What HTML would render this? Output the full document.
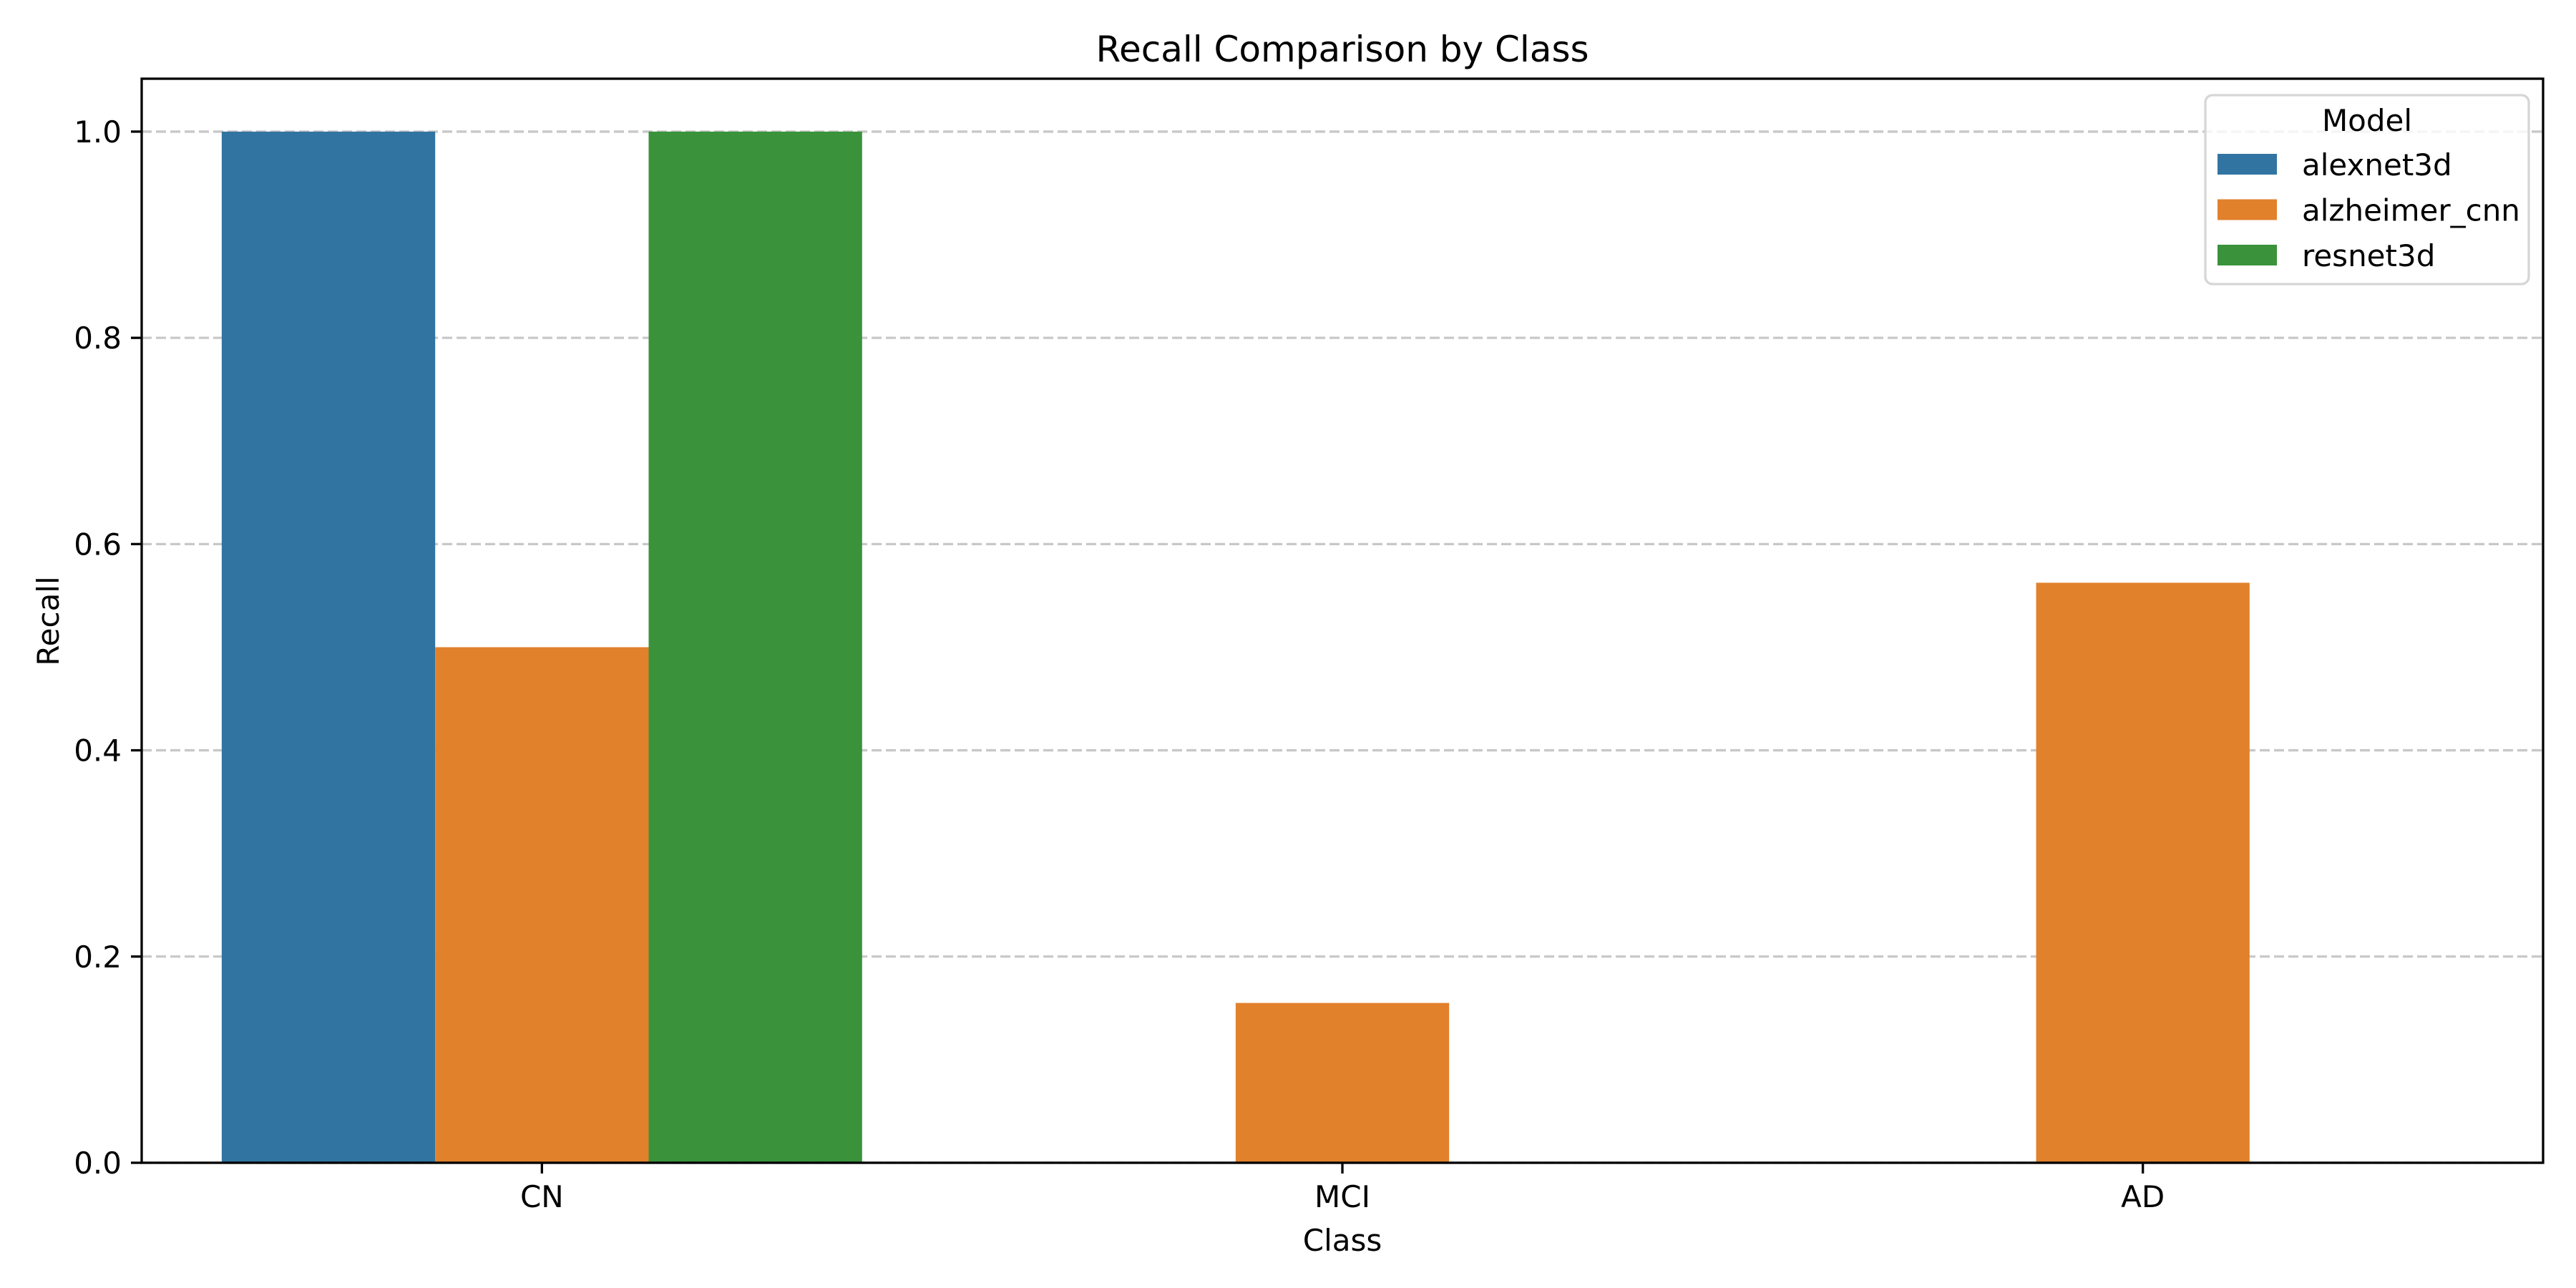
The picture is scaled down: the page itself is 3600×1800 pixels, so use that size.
<!DOCTYPE html>
<html><head><meta charset="utf-8"><style>
html,body{margin:0;padding:0;background:#fff;}
svg{display:block;font-family:"DejaVu Sans","Liberation Sans",sans-serif;}
</style></head><body>
<svg id="chart" width="3600" height="1800" viewBox="0 0 3600 1800" xmlns="http://www.w3.org/2000/svg">
<rect width="3600" height="1800" fill="#fff"/>
<g id="grid"></g>
<g id="bars"></g>
<g id="axes"></g>
<text x="1876" y="86" font-size="50" text-anchor="middle">Recall Comparison by Class</text>
<text x="1876" y="1748" font-size="42" text-anchor="middle">Class</text>
<text x="0" y="0" font-size="42" text-anchor="middle" transform="translate(82,868) rotate(-90)">Recall</text>
<g id="legend"></g>
</svg>
<script>
const categories = ["CN", "MCI", "AD"];
const models = ["alexnet3d", "alzheimer_cnn", "resnet3d"];
const alexnet3d = [1.0, 0.0, 0.0];
const alzheimerCnn = [0.5, 0.155, 0.5625];
const resnet3d = [1.0, 0.0, 0.0];
const yTicks = [0.0, 0.2, 0.4, 0.6, 0.8, 1.0];
const yTickLabels = ["0.0", "0.2", "0.4", "0.6", "0.8", "1.0"];

const series = [alexnet3d, alzheimerCnn, resnet3d];
const colors = ["#3274a1", "#e1812c", "#3a923a"];
const NS = "http://www.w3.org/2000/svg";
const L = 198, R = 3554, T = 110, B = 1625;
const yMax = 1.0513;
function xScale(v){ return L + (v + 0.5) / categories.length * (R - L); }
function yScale(v){ return B - v / yMax * (B - T); }
function mk(tag, attrs, parent){
  const e = document.createElementNS(NS, tag);
  for (const k in attrs) e.setAttribute(k, attrs[k]);
  parent.appendChild(e);
  return e;
}
const grid = document.getElementById('grid');
const bars = document.getElementById('bars');
const axes = document.getElementById('axes');
const legend = document.getElementById('legend');

yTicks.forEach((t, i) => {
  const y = yScale(t);
  const g = mk('line', {x1:L, x2:R, y1:y, y2:y, stroke:'#b0b0b0', 'stroke-opacity':0.7, 'stroke-width':3.3, 'stroke-dasharray':'14,6'}, grid);
  
  
  const tk = mk('line', {x1:L-15, x2:L, y1:y, y2:y, stroke:'#000', 'stroke-width':3.3}, axes);
  
  
  const tx = mk('text', {x:L-28, y:y+15, 'font-size':42, 'text-anchor':'end'}, axes);
  tx.textContent = yTickLabels[i];
  
  
});

const bw = 0.8 / models.length;
series.forEach((vals, s) => {
  vals.forEach((v, c) => {
    if (v <= 0) return;
    const x0 = xScale(c - 0.4 + s * bw), x1 = xScale(c - 0.4 + (s + 1) * bw);
    const r = mk('rect', {x:x0, y:yScale(v), width:x1 - x0, height:B - yScale(v), fill:colors[s]}, bars);
    
    
  });
});

categories.forEach((c, i) => {
  const x = xScale(i);
  const tk = mk('line', {x1:x, x2:x, y1:B, y2:B+15, stroke:'#000', 'stroke-width':3.3}, axes);
  
  
  const tx = mk('text', {x:x, y:B+62, 'font-size':42, 'text-anchor':'middle'}, axes);
  tx.textContent = c;
  
  
});

const frame = mk('rect', {x:L, y:T, width:R-L, height:B-T, fill:'none', stroke:'#000', 'stroke-width':3.3}, axes);



const lb = mk('rect', {x:3082, y:133, width:452, height:264, rx:10, fill:'#fff', 'fill-opacity':0.8, stroke:'#d6d6d6', 'stroke-width':3.3}, legend);


const lt = mk('text', {x:3308, y:183, 'font-size':42, 'text-anchor':'middle'}, legend);
lt.textContent = 'Model';


models.forEach((m, i) => {
  const cy = 230 + i * 63.5;
  const p = mk('rect', {x:3099, y:cy-15, width:83, height:29, fill:colors[i]}, legend);
  
  
  const t = mk('text', {x:3217, y:cy+15, 'font-size':42}, legend);
  t.textContent = m;
  
  
});
</script>
</body></html>
